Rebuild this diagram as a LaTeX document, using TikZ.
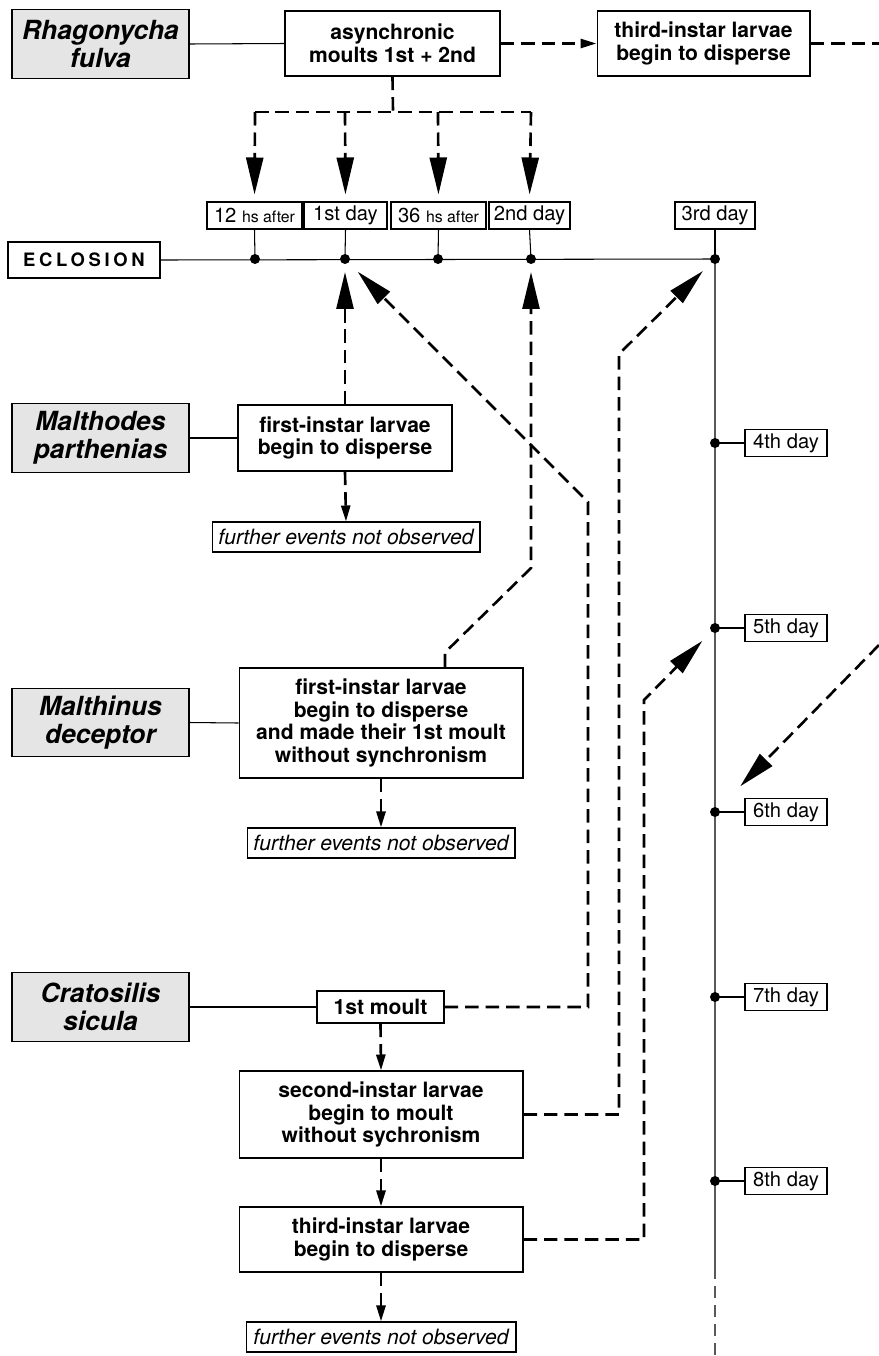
\documentclass[tikz,border=0pt]{standalone}
\usepackage{fontspec}
\setmainfont{TeX Gyre Heros}
\usetikzlibrary{calc,arrows.meta,positioning}

\begin{document}
\begin{tikzpicture}[x=0.02cm,y=-0.02cm,
  species/.style={draw,fill=black!10,line width=0.6pt,minimum width=3.54cm,minimum height=1.37cm,inner sep=2pt,align=center,font=\fontsize{15}{16}\selectfont\bfseries\itshape},
  event/.style={draw,fill=white,line width=0.6pt,inner sep=2pt,align=center,font=\fontsize{12}{13}\selectfont\bfseries},
  further/.style={draw,line width=0.6pt,minimum width=5.36cm,minimum height=0.6cm,inner sep=2pt,font=\fontsize{12}{14}\selectfont\itshape},
  daylabel/.style={draw,line width=0.6pt,minimum height=0.54cm,inner sep=2pt,font=\fontsize{11.5}{13}\selectfont},
  solidline/.style={line width=0.6pt},
  axisline/.style={line width=0.85pt,black!65},
  dline/.style={line width=1.5pt,dash pattern=on 0.27cm off 0.14cm},
  bigtip/.style={-{Triangle[length=7.4mm,width=3.4mm]}},
  smalltip/.style={-{Triangle[length=3.2mm,width=1.8mm]}}]
\useasboundingbox (0,0) rectangle (879,1356);

% species
\node[species] (rhago) at (100.5,44) {Rhagonycha\\fulva};
\node[species] (malthodes) at (100.5,438) {Malthodes\\parthenias};
\node[species] (malthinus) at (100.5,722.5) {Malthinus\\deceptor};
\node[species] (crato) at (100.5,1007) {Cratosilis\\sicula};

% events
\node[event,minimum width=4.3cm,minimum height=1.3cm] (async) at (392.5,43.5) {asynchronic\\moults 1st + 2nd};
\node[event,minimum width=4.26cm,minimum height=1.3cm] (rthird) at (703.5,43.5) {third-instar larvae\\begin to disperse};
\node[event,minimum width=4.28cm,minimum height=1.32cm] (fi1) at (345,438) {first-instar larvae\\begin to disperse};
\node[further] (fe1) at (346,537) {further events not observed};
\node[event,minimum width=5.68cm,minimum height=2.2cm] (fi2) at (381,723) {first-instar larvae\\begin to disperse\\and made their 1st moult\\without synchronism};
\node[further] (fe2) at (381,843) {further events not observed};
\node[event,minimum width=2.54cm,minimum height=0.64cm] (m1) at (380.5,1007) {1st moult};
\node[event,minimum width=5.68cm,minimum height=1.74cm] (si2) at (381,1114.5) {second-instar larvae\\begin to moult\\without sychronism};
\node[event,minimum width=5.68cm,minimum height=1.3cm] (ti3) at (381,1239.5) {third-instar larvae\\begin to disperse};
\node[further,minimum width=5.4cm] (fe3) at (381,1337) {further events not observed};

% time axis
\node[draw,line width=0.6pt,minimum width=3.04cm,minimum height=0.72cm,inner sep=2pt,
  font={\fontsize{10.5}{12}\selectfont\bfseries\addfontfeatures{LetterSpace=20}}] (eclosion) at (84,260) {ECLOSION};
\coordinate (t12) at (255,259);
\coordinate (t1) at (345,259);
\coordinate (t36) at (438,259);
\coordinate (t2) at (531,259);
\coordinate (t3) at (715,259);
\coordinate (t4) at (715,443);
\coordinate (t5) at (715,628);
\coordinate (t6) at (715,812);
\coordinate (t7) at (715,997);
\coordinate (t8) at (715,1181);
\coordinate (tend) at (715,1267);
\coordinate (tbot) at (715,1356);

\node[daylabel,minimum width=1.9cm] (h12) at (254.5,215.5) {12 {\fontsize{9}{11}\selectfont hs after}};
\node[daylabel,minimum width=1.66cm] (d1) at (345.5,215.5) {1st day};
\node[daylabel,minimum width=1.9cm] (h36) at (438.5,215.5) {36 {\fontsize{9}{11}\selectfont hs after}};
\node[daylabel,minimum width=1.62cm] (d2) at (529.5,215.5) {2nd day};
\node[daylabel,minimum width=1.6cm] (d3) at (715,215.5) {3rd day};
\foreach \n in {4,...,8}
  \node[daylabel,minimum width=1.64cm] (l\n) at ($(t\n)+(71,0)$) {\n th day};

\draw[solidline] (eclosion.east) -- (t3);
\draw[axisline] (t3) -- (tend);
\draw[axisline,dash pattern=on 0.24cm off 0.14cm] (tend) -- (tbot);
\draw[solidline] (h12.south) -- (t12);
\draw[solidline] (d1.south) -- (t1);
\draw[solidline] (h36.south) -- (t36);
\draw[solidline] (d2.south) -- (t2);
\draw[solidline] (d3.south) -- (t3);
\foreach \n in {4,...,8}
  \draw[solidline] (t\n) -- (l\n.west);

% species to events
\draw[solidline] (rhago.east) -- (async.west);
\draw[solidline] (malthodes.east) -- (fi1.west);
\draw[solidline] (malthinus.east) -- (fi2.west);
\draw[solidline] (crato.east) -- (m1.west);

% Rhagonycha
\coordinate (fork) at (393,112);
\coordinate (rout) at (879,43.5);
\draw[dline,smalltip] (async.east) -- (rthird.west);
\draw[dline] (rthird.east) -- (rout);
\draw[dline] (async.south) -- (fork);
\draw[dline] (fork -| t12) -- (fork -| t2);
\foreach \d/\t in {h12/t12,d1/t1,h36/t36,d2/t2}
  \draw[dline,bigtip,shorten >=0.14cm] (fork -| \t) -- (\d.north);

% Malthodes
\draw[dline,bigtip,shorten >=0.26cm] (fi1.north) -- (t1);
\draw[dline,smalltip] (fi1.south) -- (fe1.north);

% Malthinus
\coordinate (f2up) at (531,568);
\draw[dline,bigtip,shorten >=0.26cm] ($(fi2.north)+(64,0)$) -- ++(0,-15) -- (f2up) -- (t2);
\draw[dline,smalltip] (fi2.south) -- (fe2.north);

% Cratosilis
\coordinate (m1up) at (588,502);
\coordinate (s2up) at (619,354);
\coordinate (t3up) at (644,700);
\draw[dline,bigtip,shorten >=0.36cm] (m1.east) -| (m1up) -- (t1);
\draw[dline,bigtip,shorten >=0.34cm] (si2.east) -| (s2up) -- (t3);
\draw[dline,bigtip,shorten >=0.36cm] (ti3.east) -| (t3up) -- (t5);
\draw[dline,smalltip] (m1.south) -- (si2.north);
\draw[dline,smalltip] (si2.south) -- (ti3.north);
\draw[dline,smalltip] (ti3.south) -- (fe3.north);

\coordinate (redge) at (879,645);
\draw[dline,bigtip,shorten >=0.72cm] (redge) -- (t6);

\foreach \p in {t12,t1,t36,t2,t3,t4,t5,t6,t7,t8}
  \fill (\p) circle (0.1cm);
\end{tikzpicture}
\end{document}
